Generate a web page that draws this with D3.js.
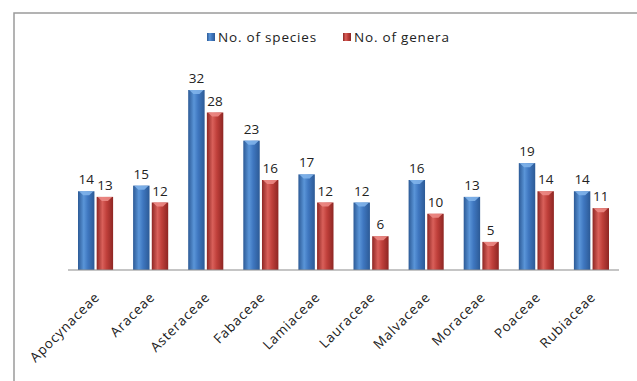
<!DOCTYPE html>
<html>
<head>
<meta charset="utf-8">
<script src="https://cdn.jsdelivr.net/npm/d3@7"></script>
<style>
  body { margin: 0; background: #fff; }
  svg { display: block; font-family: "Open Sans", Lato, sans-serif; }
</style>
</head>
<body>
<svg id="chart" width="637" height="381"></svg>
<script>
// --- data ---
const families = ["Apocynaceae", "Araceae", "Asteraceae", "Fabaceae", "Lamiaceae",
                  "Lauraceae", "Malvaceae", "Moraceae", "Poaceae", "Rubiaceae"];
const species = [14, 15, 32, 23, 17, 12, 16, 13, 19, 14];
const genera  = [13, 12, 28, 16, 12, 6, 10, 5, 14, 11];
const seriesNames = ["No. of species", "No. of genera"];

// --- layout ---
const svg = d3.select("#chart");
const plot = { left: 68, right: 619, top: 90, bottom: 270 };

// frame
svg.append("rect").attr("x", 14).attr("y", 13).attr("width", 640).attr("height", 400)
  .attr("fill", "none").attr("stroke", "#9a9a9a").attr("stroke-width", 1.5);

const defs = svg.append("defs");
function barGrad(id, dark, mid, light) {
  const g = defs.append("linearGradient").attr("id", id).attr("x1", 0).attr("x2", 1).attr("y1", 0).attr("y2", 0);
  g.append("stop").attr("offset", "0%").attr("stop-color", dark);
  g.append("stop").attr("offset", "35%").attr("stop-color", light);
  g.append("stop").attr("offset", "60%").attr("stop-color", mid);
  g.append("stop").attr("offset", "100%").attr("stop-color", dark);
}
barGrad("gBlue", "#2c5a96", "#3f77c0", "#5a95d8");
barGrad("gRed", "#8e2623", "#c0403b", "#d9605a");

const x0 = d3.scaleBand().domain(families).range([plot.left, plot.right]).paddingInner(0).paddingOuter(0);
const x1 = d3.scaleBand().domain([0, 1]).range([10, x0.bandwidth() - 10]).paddingInner(0.12);
const y = d3.scaleLinear().domain([0, 32]).range([plot.bottom, plot.top]);

const rows = families.map((f, i) => ({ f, vals: [species[i], genera[i]] }));
const fills = ["url(#gBlue)", "url(#gRed)"];
const caps = ["#7fb2ea", "#ec8a85"];

const grp = svg.append("g").selectAll("g").data(rows).join("g")
  .attr("transform", d => `translate(${x0(d.f)},0)`);

grp.selectAll("rect.bar").data(d => d.vals.map((v, s) => ({ v, s }))).join("rect")
  .attr("class", "bar")
  .attr("x", d => x1(d.s)).attr("width", x1.bandwidth())
  .attr("y", d => y(d.v)).attr("height", d => y(0) - y(d.v))
  .attr("fill", d => fills[d.s]);

// light cap at bar top
grp.selectAll("path.cap").data(d => d.vals.map((v, s) => ({ v, s }))).join("path")
  .attr("class", "cap")
  .attr("d", d => {
    const xl = x1(d.s), w = x1.bandwidth(), t = y(d.v);
    return `M${xl + 1},${t} L${xl + w - 1},${t} L${xl + w / 2 + 3},${t + 4} L${xl + w / 2 - 3},${t + 4} Z`;
  })
  .attr("fill", d => caps[d.s]).attr("opacity", 0.9);

grp.selectAll("text.val").data(d => d.vals.map((v, s) => ({ v, s }))).join("text")
  .attr("class", "val")
  .attr("x", d => x1(d.s) + x1.bandwidth() / 2)
  .attr("y", d => y(d.v) - 7)
  .attr("text-anchor", "middle")
  .attr("font-size", 13.5).attr("fill", "#222")
  .text(d => d.v);

// axis line
svg.append("line").attr("x1", plot.left).attr("x2", plot.right)
  .attr("y1", y(0)).attr("y2", y(0)).attr("stroke", "#8c8c8c").attr("stroke-width", 1.2);

// category labels
svg.append("g").selectAll("text").data(families).join("text")
  .attr("transform", d => `translate(${x0(d) + x0.bandwidth() / 2 + 5},${plot.bottom + 28}) rotate(-45)`)
  .attr("text-anchor", "end")
  .attr("font-size", 13.5).attr("letter-spacing", 0.8).attr("fill", "#222")
  .text(d => d);

// legend
const leg = svg.append("g").attr("transform", "translate(207,33)");
const legX = [0, 136];
seriesNames.forEach((n, i) => {
  const g = leg.append("g").attr("transform", `translate(${legX[i]},0)`);
  g.append("rect").attr("width", 8).attr("height", 8).attr("fill", fills[i]);
  g.append("text").attr("x", 11).attr("y", 9).attr("font-size", 13.5)
    .attr("letter-spacing", 0.8).attr("fill", "#222").text(n);
});
</script>
</body>
</html>
